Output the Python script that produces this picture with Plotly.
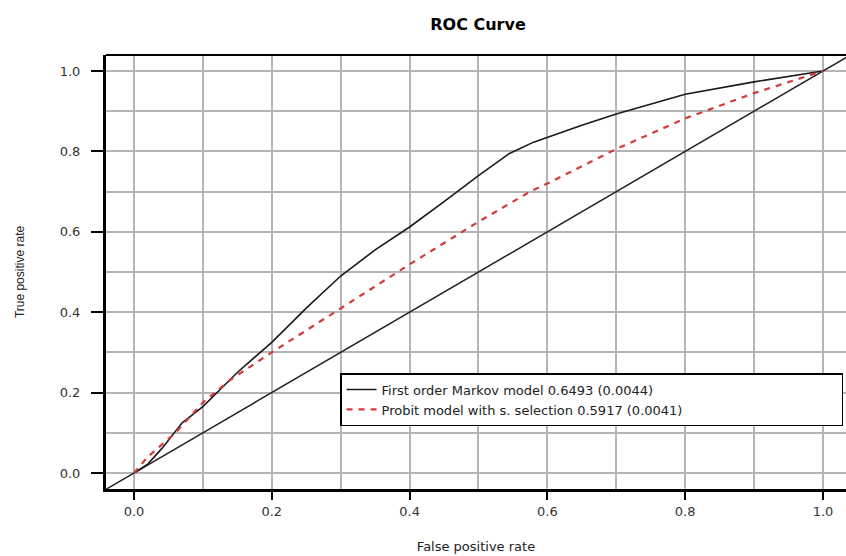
import plotly.graph_objects as go

# ---- data ----
markov_fpr = [0.0, 0.02, 0.04, 0.07, 0.10, 0.12, 0.15, 0.17, 0.20, 0.25, 0.30, 0.35,
              0.40, 0.45, 0.50, 0.545, 0.58, 0.65, 0.70, 0.80, 0.90, 1.0]
markov_tpr = [0.0, 0.022, 0.06, 0.125, 0.165, 0.20, 0.25, 0.28, 0.325, 0.41, 0.49, 0.555,
              0.612, 0.675, 0.74, 0.795, 0.823, 0.865, 0.893, 0.942, 0.973, 1.0]

probit_fpr = [0.0, 0.02, 0.04, 0.06, 0.10, 0.14, 0.20, 0.25, 0.30, 0.35, 0.40, 0.45,
              0.50, 0.575, 0.60, 0.70, 0.80, 0.90, 1.0]
probit_tpr = [0.0, 0.04, 0.07, 0.10, 0.175, 0.232, 0.30, 0.355, 0.408, 0.464, 0.519, 0.572,
              0.625, 0.700, 0.72, 0.806, 0.882, 0.945, 1.0]

chance_x = [-0.2, 1.2]
chance_y = [-0.2, 1.2]

markov_name = "First order Markov model 0.6493 (0.0044)"
probit_name = "Probit model with s. selection 0.5917 (0.0041)"
title_text = "ROC Curve"
x_title = "False positive rate"
y_title = "True positive rate"

major_ticks = [0.0, 0.2, 0.4, 0.6, 0.8, 1.0]
major_labels = ["0.0", "0.2", "0.4", "0.6", "0.8", "1.0"]
minor_ticks = [0.1, 0.3, 0.5, 0.7, 0.9]

FONT = "DejaVu Sans"
GRID = "#b4b4b4"

fig = go.Figure()
fig.add_trace(go.Scatter(x=chance_x, y=chance_y, mode="lines",
                         line=dict(color="#222222", width=1.5), showlegend=False,
                         hoverinfo="skip"))
fig.add_trace(go.Scatter(x=markov_fpr, y=markov_tpr, mode="lines", name=markov_name,
                         line=dict(color="#1a1a1a", width=1.6)))
fig.add_trace(go.Scatter(x=probit_fpr, y=probit_tpr, mode="lines", name=probit_name,
                         line=dict(color="#d43a3a", width=2.2, dash="6px,6px")))

axis_common = dict(
    showline=True, linecolor="black", linewidth=3,
    ticks="outside", tickwidth=2, tickcolor="black",
    showgrid=True, gridcolor=GRID, gridwidth=1.5,
    zeroline=False,
    tickvals=major_ticks, ticktext=major_labels,
    tickfont=dict(family=FONT, size=13, color="#333333"),
    minor=dict(tickvals=minor_ticks, showgrid=True, gridcolor=GRID, gridwidth=1.5),
)

fig.update_layout(
    width=846, height=556,
    margin=dict(l=106, r=0, t=55, b=67),
    paper_bgcolor="white", plot_bgcolor="white",
    title=dict(text="<b>" + title_text + "</b>", x=(478 / 846), xanchor="center",
               y=1 - 24 / 556, yanchor="middle",
               font=dict(family=FONT, size=16, color="black")),
    xaxis=dict(axis_common, range=[-0.0406, 1.0334], ticklen=8,
               title=dict(text=x_title, font=dict(family=FONT, size=13, color="#222222"),
                          standoff=25)),
    yaxis=dict(axis_common, range=[-0.0398, 1.0398], ticklen=12, ticklabelstandoff=8,
               title=dict(text=y_title, font=dict(family="Liberation Sans", size=12, color="#222222"),
                          standoff=33)),
    legend=dict(orientation="h", x=0.996, xanchor="right", y=0.267, yanchor="top",
                bgcolor="white", bordercolor="black", borderwidth=1.5,
                font=dict(family=FONT, size=13, color="#222222"),
                tracegroupgap=0, entrywidth=455, entrywidthmode="pixels"),
    showlegend=True,
)

fig.add_shape(type="line", xref="paper", yref="paper", x0=0, x1=1, y0=1, y1=1,
              line=dict(color="black", width=2))

fig.write_html("out.html")
